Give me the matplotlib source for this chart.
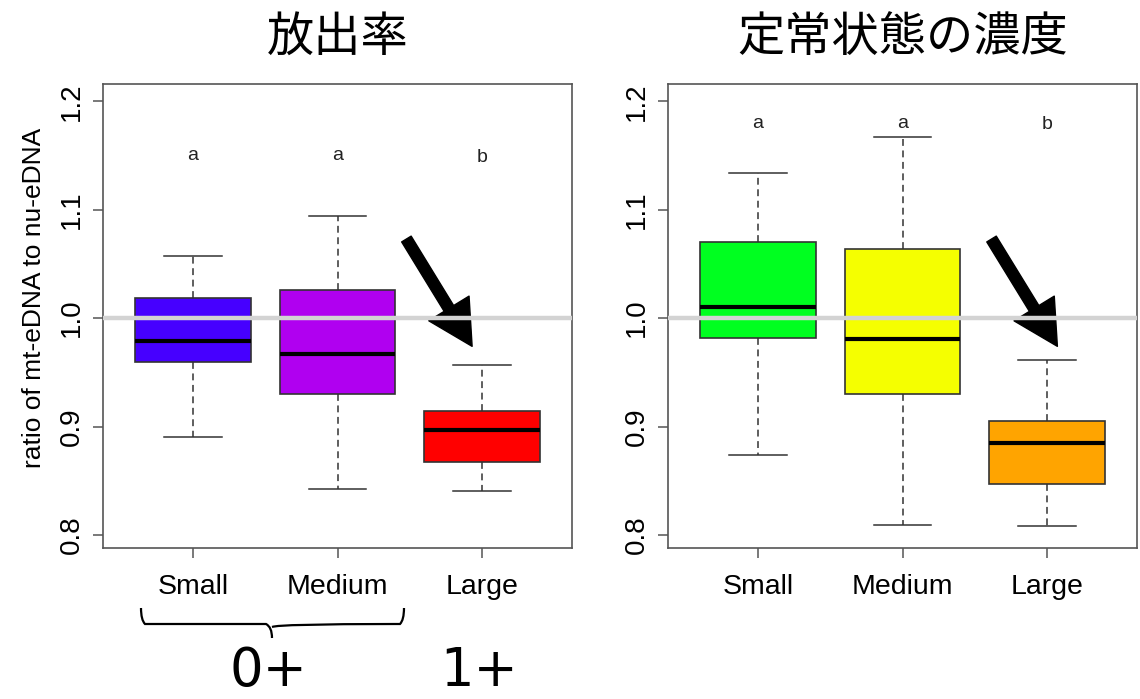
import matplotlib
matplotlib.use("Agg")
import matplotlib.pyplot as plt
from matplotlib.path import Path
from matplotlib.patches import PathPatch

categories = ["Small", "Medium", "Large"]

# five-number summaries: (low whisker, Q1, median, Q3, high whisker)
release_low = [0.890, 0.842, 0.841]
release_q1 = [0.960, 0.930, 0.867]
release_med = [0.979, 0.967, 0.897]
release_q3 = [1.019, 1.026, 0.914]
release_high = [1.057, 1.094, 0.957]
release_letters = ["a", "a", "b"]
release_letter_y = [1.150, 1.150, 1.148]
release_colors = ["#4600FF", "#B000F0", "#FF0000"]

steady_low = [0.874, 0.809, 0.808]
steady_q1 = [0.982, 0.930, 0.847]
steady_med = [1.010, 0.981, 0.885]
steady_q3 = [1.070, 1.064, 0.905]
steady_high = [1.134, 1.167, 0.961]
steady_letters = ["a", "a", "b"]
steady_letter_y = [1.180, 1.180, 1.179]
steady_colors = ["#00FF20", "#F5FF00", "#FFA400"]

titles = ["放出率", "定常状態の濃度"]
ylabel = "ratio of mt-eDNA to nu-eDNA"
yticks = [0.8, 0.9, 1.0, 1.1, 1.2]
groups = ["0+", "1+"]

plt.rcParams['font.family'] = ['Liberation Sans', 'DejaVu Sans']
cjk = ['Noto Sans CJK JP', 'DejaVu Sans']

fig = plt.figure(figsize=(11.4, 6.99), dpi=100)
ax1 = fig.add_axes([103 / 1140, 151 / 699, 469 / 1140, 464 / 699])
ax2 = fig.add_axes([668 / 1140, 151 / 699, 469 / 1140, 464 / 699])


def draw_panel(ax, low, q1, med, q3, high, colors, letters, letter_y, title, arrow):
    stats = []
    for i in range(len(categories)):
        stats.append(dict(whislo=low[i], q1=q1[i], med=med[i], q3=q3[i], whishi=high[i],
                          fliers=[], label=categories[i]))
    bp = ax.bxp(stats, positions=[1, 2, 3], widths=0.8, patch_artist=True, showfliers=False,
                boxprops=dict(edgecolor="#333333", linewidth=1.2),
                medianprops=dict(color="black", linewidth=3),
                whiskerprops=dict(color="#333333", linewidth=1.1, linestyle=(0, (4.5, 3))),
                capprops=dict(color="#333333", linewidth=1.1),
                capwidths=0.4)
    for patch, c in zip(bp["boxes"], colors):
        patch.set_facecolor(c)
    ax.axhline(1.0, color="#d3d3d3", linewidth=3.2, zorder=5)
    for i, (lt, ly) in enumerate(zip(letters, letter_y)):
        ax.text(i + 1, ly, lt, ha="center", va="center", fontsize=14, color="#222222")
    ax.annotate("", xy=arrow[1], xytext=arrow[0],
                arrowprops=dict(facecolor="black", edgecolor="black", width=8,
                                headwidth=34, headlength=32, shrink=0))
    ax.set_xlim(0.38, 3.62)
    ax.set_ylim(0.788, 1.216)
    ax.set_yticks(yticks)
    ax.set_yticklabels([f"{v:.1f}" for v in yticks], rotation=90, va="center")
    ax.set_xticks([1, 2, 3])
    ax.set_xticklabels(categories)
    ax.tick_params(axis="y", labelsize=20, length=7, width=1.1, color="#555555", pad=6)
    ax.tick_params(axis="x", labelsize=20.5, length=7, width=1.1, color="#555555", pad=12)
    for s in ax.spines.values():
        s.set_color("#555555")
        s.set_linewidth(1.2)
    ax.set_title(title, fontsize=34, family=cjk, pad=24)


draw_panel(ax1, release_low, release_q1, release_med, release_q3, release_high,
           release_colors, release_letters, release_letter_y, titles[0],
           [(2.476, 1.073), (2.93, 0.974)])
draw_panel(ax2, steady_low, steady_q1, steady_med, steady_q3, steady_high,
           steady_colors, steady_letters, steady_letter_y, titles[1],
           [(2.615, 1.073), (3.07, 0.974)])

ax1.set_ylabel(ylabel, fontsize=19)
ax1.yaxis.set_label_coords(-0.122, 0.54)

# curly bracket under Small / Medium, drawn in figure pixels
W, H = 1140.0, 699.0
pts = [(141, 608), (141, 620), (145, 624), (150, 624), (266, 624), (272, 627), (272, 638),
       (272, 627), (278, 624), (395, 624), (400, 624), (404, 620), (404, 608)]
codes = [Path.MOVETO, Path.CURVE3, Path.CURVE3, Path.LINETO, Path.LINETO, Path.CURVE3,
         Path.CURVE3, Path.MOVETO, Path.CURVE3, Path.CURVE3, Path.LINETO, Path.CURVE3, Path.CURVE3]
brace = Path([(x / W, 1 - y / H) for x, y in pts], codes)
fig.add_artist(PathPatch(brace, facecolor="none", edgecolor="black", linewidth=1.6,
                         transform=fig.transFigure))

fig.text(268 / W, 1 - 671 / H, groups[0], fontsize=38, ha="center", va="center",
         family="DejaVu Sans")
fig.text(479 / W, 1 - 671 / H, groups[1], fontsize=38, ha="center", va="center",
         family="DejaVu Sans")

fig.savefig("out.png", dpi=100, facecolor="white")
